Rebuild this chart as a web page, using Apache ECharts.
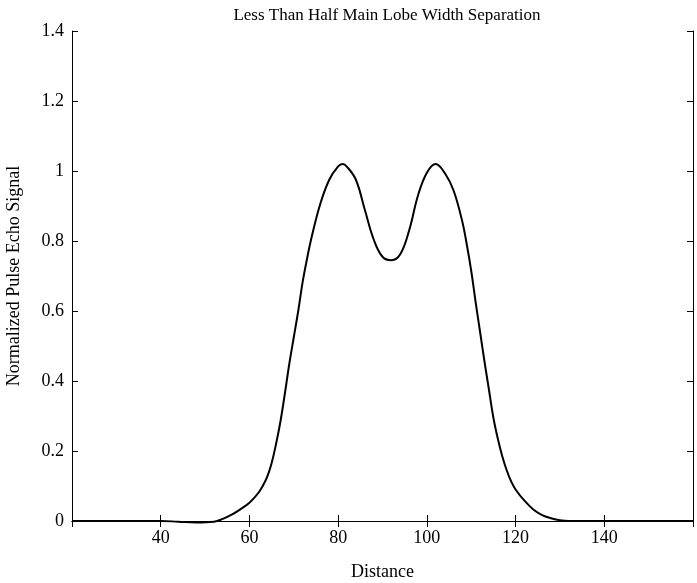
<!DOCTYPE html>
<html lang="en">
<head>
    <title>echo</title>
    <meta charset="utf-8">
</head>
<body style="margin:0">
<script type="text/javascript" src="https://cdn.jsdelivr.net/npm/echarts@6/dist/echarts.min.js"></script>
<div id="main" style="width: 697px;height: 583px"></div>
<script type="text/javascript">
    // distance samples and the normalized echo
    var distance = [20, 30, 40, 44, 48, 52, 54, 56, 58, 60, 62, 63, 64, 65, 66, 67, 68, 69, 70, 71, 72, 73, 74, 76, 78, 80, 81, 82, 84, 86, 88, 90, 92,
        94, 96, 98, 100, 102, 104, 106, 108, 109, 110, 111, 112, 113, 114, 115, 116, 117, 118, 119, 120, 122, 124, 126, 128, 130, 132, 140, 160];
    var echo = [0, 0, 0, -0.002, -0.004, -0.002, 0.006, 0.018, 0.034, 0.052, 0.08, 0.1, 0.126, 0.165, 0.22, 0.285, 0.365, 0.45, 0.525, 0.6, 0.683, 0.75, 0.81, 0.907, 0.975, 1.013, 1.02, 1.012, 0.975, 0.89, 0.805, 0.755, 0.745,
        0.762, 0.83, 0.93, 0.995, 1.02, 0.995, 0.945, 0.855, 0.79, 0.715, 0.625, 0.54, 0.455, 0.375, 0.295, 0.235, 0.185, 0.145, 0.113, 0.09, 0.058, 0.033, 0.017, 0.008, 0.002, 0, 0, 0];

    var points = [];
    for (var i = 0; i < distance.length; i++) {
        points.push([distance[i], echo[i]]);
    }

    var font = '"Liberation Serif", "DejaVu Serif", serif';
    var axisLine = {lineStyle: {color: '#000', width: 1}};
    var tick = {inside: true, length: 6, lineStyle: {color: '#000'}};

    var myChart = echarts.init(document.getElementById('main'));
    var option = {
        animation: false,
        title: {
            text: 'Less Than Half Main Lobe Width Separation',
            left: 382,
            textAlign: 'center',
            top: 2,
            textStyle: {fontFamily: font, fontSize: 17, fontWeight: 'normal', color: '#000'}
        },
        grid: {left: 72, right: 4, top: 31, bottom: 62, outerBoundsMode: 'none'},
        xAxis: [{
            type: 'value',
            min: 20, max: 160, interval: 20,
            name: 'Distance',
            nameLocation: 'middle',
            nameGap: 42,
            nameTextStyle: {fontFamily: font, fontSize: 18, color: '#000'},
            axisLine: axisLine,
            axisTick: tick,
            splitLine: {show: false},
            axisLabel: {fontFamily: font, fontSize: 18, color: '#000', margin: 8, showMinLabel: false, showMaxLabel: false}
        }, {
            type: 'value',
            position: 'top',
            min: 20, max: 160, interval: 20,
            axisLine: axisLine,
            axisTick: tick,
            splitLine: {show: false},
            axisLabel: {show: false}
        }],
        yAxis: [{
            type: 'value',
            min: 0, max: 1.4, interval: 0.2,
            name: 'Normalized Pulse Echo Signal',
            nameLocation: 'middle',
            nameGap: 49,
            nameTextStyle: {fontFamily: font, fontSize: 18, color: '#000'},
            axisLine: axisLine,
            axisTick: tick,
            splitLine: {show: false},
            axisLabel: {fontFamily: font, fontSize: 18, color: '#000', margin: 8}
        }, {
            type: 'value',
            position: 'right',
            min: 0, max: 1.4, interval: 0.2,
            axisLine: axisLine,
            axisTick: tick,
            splitLine: {show: false},
            axisLabel: {show: false}
        }],
        series: [{
            type: 'line',
            data: points,
            smooth: 0.4,
            symbol: 'none',
            clip: false,
            lineStyle: {color: '#000', width: 2}
        }]
    };
    myChart.setOption(option);
</script>
</body>
</html>
